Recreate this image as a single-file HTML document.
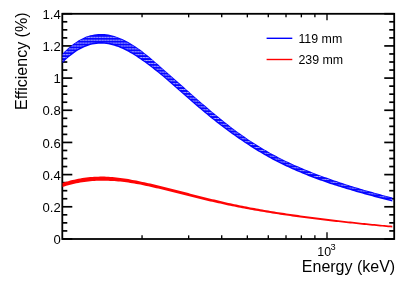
<!DOCTYPE html>
<html><head><meta charset="utf-8"><title>Efficiency</title>
<style>
html,body{margin:0;padding:0;background:#fff;}
svg{display:block;font-family:"Liberation Sans",sans-serif;will-change:transform;}
</style></head>
<body>
<svg width="415" height="281" viewBox="0 0 415 281">
<defs>
<pattern id="tx" x="0" y="2.0" width="2.75" height="2.9" patternUnits="userSpaceOnUse">
<rect x="0" y="0" width="2.35" height="1.0" fill="#fff" fill-opacity="0.68"/>
</pattern>
<clipPath id="plot"><rect x="62.3" y="13.8" width="331.9" height="225.2"/></clipPath>
</defs>
<rect width="415" height="281" fill="#fff"/>
<g stroke="#000" stroke-width="1.7" fill="none">
<line x1="62.30" y1="238.95" x2="72.30" y2="238.95"/>
<line x1="394.25" y1="238.95" x2="384.25" y2="238.95"/>
<line x1="62.30" y1="230.91" x2="67.30" y2="230.91"/>
<line x1="394.25" y1="230.91" x2="389.25" y2="230.91"/>
<line x1="62.30" y1="222.86" x2="67.30" y2="222.86"/>
<line x1="394.25" y1="222.86" x2="389.25" y2="222.86"/>
<line x1="62.30" y1="214.82" x2="67.30" y2="214.82"/>
<line x1="394.25" y1="214.82" x2="389.25" y2="214.82"/>
<line x1="62.30" y1="206.78" x2="72.30" y2="206.78"/>
<line x1="394.25" y1="206.78" x2="384.25" y2="206.78"/>
<line x1="62.30" y1="198.74" x2="67.30" y2="198.74"/>
<line x1="394.25" y1="198.74" x2="389.25" y2="198.74"/>
<line x1="62.30" y1="190.69" x2="67.30" y2="190.69"/>
<line x1="394.25" y1="190.69" x2="389.25" y2="190.69"/>
<line x1="62.30" y1="182.65" x2="67.30" y2="182.65"/>
<line x1="394.25" y1="182.65" x2="389.25" y2="182.65"/>
<line x1="62.30" y1="174.61" x2="72.30" y2="174.61"/>
<line x1="394.25" y1="174.61" x2="384.25" y2="174.61"/>
<line x1="62.30" y1="166.56" x2="67.30" y2="166.56"/>
<line x1="394.25" y1="166.56" x2="389.25" y2="166.56"/>
<line x1="62.30" y1="158.52" x2="67.30" y2="158.52"/>
<line x1="394.25" y1="158.52" x2="389.25" y2="158.52"/>
<line x1="62.30" y1="150.48" x2="67.30" y2="150.48"/>
<line x1="394.25" y1="150.48" x2="389.25" y2="150.48"/>
<line x1="62.30" y1="142.44" x2="72.30" y2="142.44"/>
<line x1="394.25" y1="142.44" x2="384.25" y2="142.44"/>
<line x1="62.30" y1="134.39" x2="67.30" y2="134.39"/>
<line x1="394.25" y1="134.39" x2="389.25" y2="134.39"/>
<line x1="62.30" y1="126.35" x2="67.30" y2="126.35"/>
<line x1="394.25" y1="126.35" x2="389.25" y2="126.35"/>
<line x1="62.30" y1="118.31" x2="67.30" y2="118.31"/>
<line x1="394.25" y1="118.31" x2="389.25" y2="118.31"/>
<line x1="62.30" y1="110.26" x2="72.30" y2="110.26"/>
<line x1="394.25" y1="110.26" x2="384.25" y2="110.26"/>
<line x1="62.30" y1="102.22" x2="67.30" y2="102.22"/>
<line x1="394.25" y1="102.22" x2="389.25" y2="102.22"/>
<line x1="62.30" y1="94.18" x2="67.30" y2="94.18"/>
<line x1="394.25" y1="94.18" x2="389.25" y2="94.18"/>
<line x1="62.30" y1="86.14" x2="67.30" y2="86.14"/>
<line x1="394.25" y1="86.14" x2="389.25" y2="86.14"/>
<line x1="62.30" y1="78.09" x2="72.30" y2="78.09"/>
<line x1="394.25" y1="78.09" x2="384.25" y2="78.09"/>
<line x1="62.30" y1="70.05" x2="67.30" y2="70.05"/>
<line x1="394.25" y1="70.05" x2="389.25" y2="70.05"/>
<line x1="62.30" y1="62.01" x2="67.30" y2="62.01"/>
<line x1="394.25" y1="62.01" x2="389.25" y2="62.01"/>
<line x1="62.30" y1="53.96" x2="67.30" y2="53.96"/>
<line x1="394.25" y1="53.96" x2="389.25" y2="53.96"/>
<line x1="62.30" y1="45.92" x2="72.30" y2="45.92"/>
<line x1="394.25" y1="45.92" x2="384.25" y2="45.92"/>
<line x1="62.30" y1="37.88" x2="67.30" y2="37.88"/>
<line x1="394.25" y1="37.88" x2="389.25" y2="37.88"/>
<line x1="62.30" y1="29.84" x2="67.30" y2="29.84"/>
<line x1="394.25" y1="29.84" x2="389.25" y2="29.84"/>
<line x1="62.30" y1="21.79" x2="67.30" y2="21.79"/>
<line x1="394.25" y1="21.79" x2="389.25" y2="21.79"/>
<line x1="62.30" y1="13.75" x2="72.30" y2="13.75"/>
<line x1="394.25" y1="13.75" x2="384.25" y2="13.75"/>
</g>
<g stroke="#000" stroke-width="1.35" fill="none">
<line x1="142.05" y1="238.95" x2="142.05" y2="235.35"/>
<line x1="142.05" y1="13.75" x2="142.05" y2="17.35"/>
<line x1="188.65" y1="238.95" x2="188.65" y2="235.35"/>
<line x1="188.65" y1="13.75" x2="188.65" y2="17.35"/>
<line x1="221.71" y1="238.95" x2="221.71" y2="235.35"/>
<line x1="221.71" y1="13.75" x2="221.71" y2="17.35"/>
<line x1="247.35" y1="238.95" x2="247.35" y2="235.35"/>
<line x1="247.35" y1="13.75" x2="247.35" y2="17.35"/>
<line x1="268.30" y1="238.95" x2="268.30" y2="235.35"/>
<line x1="268.30" y1="13.75" x2="268.30" y2="17.35"/>
<line x1="286.01" y1="238.95" x2="286.01" y2="235.35"/>
<line x1="286.01" y1="13.75" x2="286.01" y2="17.35"/>
<line x1="301.36" y1="238.95" x2="301.36" y2="235.35"/>
<line x1="301.36" y1="13.75" x2="301.36" y2="17.35"/>
<line x1="314.89" y1="238.95" x2="314.89" y2="235.35"/>
<line x1="314.89" y1="13.75" x2="314.89" y2="17.35"/>
<line x1="327.00" y1="238.95" x2="327.00" y2="232.35"/>
<line x1="327.00" y1="13.75" x2="327.00" y2="20.35"/>
</g>
<rect x="62.3" y="13.8" width="331.9" height="225.2" fill="none" stroke="#000" stroke-width="1.8"/>
<g clip-path="url(#plot)">
<path d="M62.3,53.9 L64.3,51.8 L66.3,49.9 L68.3,48.1 L70.3,46.4 L72.3,44.7 L74.3,43.3 L76.3,41.9 L78.3,40.6 L80.3,39.4 L82.3,38.4 L84.3,37.5 L86.3,36.6 L88.3,35.9 L90.3,35.3 L92.3,34.9 L94.3,34.5 L96.3,34.2 L98.3,34.0 L100.3,34.0 L102.3,34.0 L104.3,34.1 L106.3,34.3 L108.3,34.6 L110.3,35.0 L112.3,35.5 L114.3,36.0 L116.3,36.7 L118.3,37.4 L120.3,38.2 L122.3,39.1 L124.3,40.0 L126.3,41.0 L128.3,42.1 L130.3,43.3 L132.3,44.5 L134.3,45.7 L136.3,47.0 L138.3,48.4 L140.3,49.8 L142.3,51.3 L144.3,52.9 L146.3,54.5 L148.3,56.1 L150.3,57.8 L152.3,59.4 L154.3,61.2 L156.3,62.9 L158.3,64.6 L160.3,66.4 L162.3,68.2 L164.3,69.9 L166.3,71.7 L168.3,73.4 L170.3,75.2 L172.3,77.0 L174.3,78.7 L176.3,80.5 L178.3,82.3 L180.3,84.1 L182.3,85.8 L184.3,87.6 L186.3,89.4 L188.3,91.1 L190.3,92.9 L192.3,94.7 L194.3,96.4 L196.3,98.2 L198.3,99.9 L200.3,101.7 L202.3,103.4 L204.3,105.1 L206.3,106.8 L208.3,108.5 L210.3,110.2 L212.3,111.9 L214.3,113.6 L216.3,115.2 L218.3,116.8 L220.3,118.5 L222.3,120.1 L224.3,121.7 L226.3,123.3 L228.3,124.8 L230.3,126.4 L232.3,127.9 L234.3,129.4 L236.3,130.9 L238.3,132.4 L240.3,133.8 L242.3,135.2 L244.3,136.6 L246.3,138.0 L248.3,139.4 L250.3,140.7 L252.3,142.0 L254.3,143.3 L256.3,144.6 L258.3,145.8 L260.3,147.0 L262.3,148.3 L264.3,149.4 L266.3,150.6 L268.3,151.8 L270.3,152.9 L272.3,154.0 L274.3,155.1 L276.3,156.1 L278.3,157.2 L280.3,158.2 L282.3,159.2 L284.3,160.2 L286.3,161.2 L288.3,162.1 L290.3,163.0 L292.3,164.0 L294.3,164.9 L296.3,165.8 L298.3,166.6 L300.3,167.5 L302.3,168.3 L304.3,169.2 L306.3,170.0 L308.3,170.8 L310.3,171.6 L312.3,172.4 L314.3,173.2 L316.3,173.9 L318.3,174.7 L320.3,175.4 L322.3,176.2 L324.3,176.9 L326.3,177.6 L328.3,178.3 L330.3,179.0 L332.3,179.7 L334.3,180.4 L336.3,181.1 L338.3,181.8 L340.3,182.4 L342.3,183.1 L344.3,183.7 L346.3,184.4 L348.3,185.0 L350.3,185.7 L352.3,186.3 L354.3,186.9 L356.3,187.5 L358.3,188.1 L360.3,188.7 L362.3,189.3 L364.3,189.9 L366.3,190.4 L368.3,191.0 L370.3,191.6 L372.3,192.1 L374.3,192.7 L376.3,193.2 L378.3,193.8 L380.3,194.3 L382.3,194.9 L384.3,195.4 L386.3,195.9 L388.3,196.4 L390.3,197.0 L392.3,197.5 L392.3,201.5 L390.3,201.0 L388.3,200.5 L386.3,200.0 L384.3,199.5 L382.3,199.0 L380.3,198.4 L378.3,197.9 L376.3,197.4 L374.3,196.9 L372.3,196.3 L370.3,195.8 L368.3,195.3 L366.3,194.7 L364.3,194.2 L362.3,193.6 L360.3,193.0 L358.3,192.5 L356.3,191.9 L354.3,191.3 L352.3,190.7 L350.3,190.1 L348.3,189.5 L346.3,188.9 L344.3,188.3 L342.3,187.7 L340.3,187.1 L338.3,186.5 L336.3,185.8 L334.3,185.2 L332.3,184.5 L330.3,183.9 L328.3,183.2 L326.3,182.5 L324.3,181.8 L322.3,181.1 L320.3,180.4 L318.3,179.7 L316.3,178.9 L314.3,178.2 L312.3,177.4 L310.3,176.7 L308.3,175.9 L306.3,175.1 L304.3,174.3 L302.3,173.5 L300.3,172.6 L298.3,171.8 L296.3,170.9 L294.3,170.1 L292.3,169.2 L290.3,168.3 L288.3,167.3 L286.3,166.4 L284.3,165.4 L282.3,164.5 L280.3,163.5 L278.3,162.5 L276.3,161.5 L274.3,160.4 L272.3,159.4 L270.3,158.3 L268.3,157.2 L266.3,156.1 L264.3,154.9 L262.3,153.8 L260.3,152.6 L258.3,151.4 L256.3,150.2 L254.3,148.9 L252.3,147.7 L250.3,146.4 L248.3,145.1 L246.3,143.8 L244.3,142.5 L242.3,141.1 L240.3,139.8 L238.3,138.4 L236.3,137.0 L234.3,135.6 L232.3,134.2 L230.3,132.7 L228.3,131.3 L226.3,129.8 L224.3,128.3 L222.3,126.8 L220.3,125.3 L218.3,123.7 L216.3,122.2 L214.3,120.6 L212.3,119.0 L210.3,117.4 L208.3,115.7 L206.3,114.1 L204.3,112.4 L202.3,110.8 L200.3,109.1 L198.3,107.4 L196.3,105.7 L194.3,104.0 L192.3,102.2 L190.3,100.5 L188.3,98.8 L186.3,97.0 L184.3,95.3 L182.3,93.5 L180.3,91.8 L178.3,90.0 L176.3,88.3 L174.3,86.5 L172.3,84.7 L170.3,83.0 L168.3,81.3 L166.3,79.5 L164.3,77.8 L162.3,76.1 L160.3,74.5 L158.3,72.8 L156.3,71.2 L154.3,69.7 L152.3,68.1 L150.3,66.5 L148.3,65.0 L146.3,63.6 L144.3,62.1 L142.3,60.7 L140.3,59.3 L138.3,58.0 L136.3,56.6 L134.3,55.3 L132.3,54.1 L130.3,52.9 L128.3,51.8 L126.3,50.7 L124.3,49.7 L122.3,48.8 L120.3,47.9 L118.3,47.1 L116.3,46.4 L114.3,45.7 L112.3,45.2 L110.3,44.7 L108.3,44.3 L106.3,44.0 L104.3,43.8 L102.3,43.7 L100.3,43.7 L98.3,43.7 L96.3,43.9 L94.3,44.2 L92.3,44.6 L90.3,45.1 L88.3,45.7 L86.3,46.4 L84.3,47.3 L82.3,48.2 L80.3,49.2 L78.3,50.3 L76.3,51.6 L74.3,52.9 L72.3,54.4 L70.3,55.9 L68.3,57.6 L66.3,59.3 L64.3,61.2 L62.3,63.2Z" fill="#0404ff"/>
<path d="M62.3,54.8 L64.3,52.7 L66.3,50.8 L68.3,49.0 L70.3,47.3 L72.3,45.6 L74.3,44.2 L76.3,42.8 L78.3,41.5 L80.3,40.3 L82.3,39.3 L84.3,38.4 L86.3,37.5 L88.3,36.8 L90.3,36.2 L92.3,35.8 L94.3,35.4 L96.3,35.1 L98.3,34.9 L100.3,34.9 L102.3,34.9 L104.3,35.0 L106.3,35.2 L108.3,35.5 L110.3,35.9 L112.3,36.4 L114.3,36.9 L116.3,37.6 L118.3,38.3 L120.3,39.1 L122.3,40.0 L124.3,40.9 L126.3,41.9 L128.3,43.0 L130.3,44.2 L132.3,45.4 L134.3,46.6 L136.3,47.9 L138.3,49.3 L140.3,50.7 L142.3,52.2 L144.3,53.8 L146.3,55.4 L148.3,57.0 L150.3,58.7 L152.3,60.3 L154.3,62.1 L156.3,63.8 L158.3,65.5 L160.3,67.3 L162.3,69.1 L164.3,70.8 L166.3,72.6 L168.3,74.3 L170.3,76.1 L172.3,77.9 L174.3,79.6 L176.3,81.4 L178.3,83.2 L180.3,85.0 L182.3,86.7 L184.3,88.5 L186.3,90.3 L188.3,92.0 L190.3,93.8 L192.3,95.6 L194.3,97.3 L196.3,99.1 L198.3,100.8 L200.3,102.6 L202.3,104.3 L204.3,106.0 L206.3,107.7 L208.3,109.4 L210.3,111.1 L212.3,112.8 L214.3,114.5 L216.3,116.1 L218.3,117.7 L220.3,119.4 L222.3,121.0 L224.3,122.6 L226.3,124.2 L228.3,125.7 L230.3,127.3 L232.3,128.8 L234.3,130.3 L236.3,131.8 L238.3,133.3 L240.3,134.7 L242.3,136.1 L244.3,137.5 L246.3,138.9 L248.3,140.3 L250.3,141.6 L252.3,142.9 L254.3,144.2 L256.3,145.5 L258.3,146.7 L260.3,147.9 L262.3,149.2 L264.3,150.3 L266.3,151.5 L268.3,152.7 L270.3,153.8 L272.3,154.9 L274.3,156.0 L276.3,157.0 L278.3,158.1 L280.3,159.1 L282.3,160.1 L284.3,161.1 L286.3,162.1 L288.3,163.0 L290.3,163.9 L292.3,164.9 L294.3,165.8 L296.3,166.7 L298.3,167.5 L300.3,168.4 L302.3,169.2 L304.3,170.1 L306.3,170.9 L308.3,171.7 L310.3,172.5 L312.3,173.3 L314.3,174.1 L316.3,174.8 L318.3,175.6 L320.3,176.3 L322.3,177.1 L324.3,177.8 L326.3,178.5 L328.3,179.2 L330.3,179.9 L332.3,180.6 L334.3,181.3 L336.3,182.0 L338.3,182.7 L340.3,183.3 L342.3,184.0 L344.3,184.6 L346.3,185.3 L348.3,185.9 L350.3,186.6 L352.3,187.2 L354.3,187.8 L356.3,188.4 L358.3,189.0 L360.3,189.6 L362.3,190.2 L364.3,190.8 L366.3,191.3 L368.3,191.9 L370.3,192.5 L372.3,193.0 L374.3,193.6 L376.3,194.1 L378.3,194.7 L380.3,195.2 L382.3,195.8 L384.3,196.3 L386.3,196.8 L388.3,197.3 L390.3,197.9 L392.3,198.4 L392.3,199.9 L390.3,199.4 L388.3,198.9 L386.3,198.4 L384.3,197.9 L382.3,197.4 L380.3,196.8 L378.3,196.3 L376.3,195.8 L374.3,195.3 L372.3,194.7 L370.3,194.2 L368.3,193.7 L366.3,193.1 L364.3,192.6 L362.3,192.0 L360.3,191.4 L358.3,190.9 L356.3,190.3 L354.3,189.7 L352.3,189.1 L350.3,188.5 L348.3,187.9 L346.3,187.3 L344.3,186.7 L342.3,186.1 L340.3,185.5 L338.3,184.9 L336.3,184.2 L334.3,183.6 L332.3,182.9 L330.3,182.3 L328.3,181.6 L326.3,180.9 L324.3,180.2 L322.3,179.5 L320.3,178.8 L318.3,178.1 L316.3,177.3 L314.3,176.6 L312.3,175.8 L310.3,175.1 L308.3,174.3 L306.3,173.5 L304.3,172.7 L302.3,171.9 L300.3,171.0 L298.3,170.2 L296.3,169.3 L294.3,168.5 L292.3,167.6 L290.3,166.7 L288.3,165.7 L286.3,164.8 L284.3,163.8 L282.3,162.9 L280.3,161.9 L278.3,160.9 L276.3,159.9 L274.3,158.8 L272.3,157.8 L270.3,156.7 L268.3,155.6 L266.3,154.5 L264.3,153.3 L262.3,152.2 L260.3,151.0 L258.3,149.8 L256.3,148.6 L254.3,147.3 L252.3,146.1 L250.3,144.8 L248.3,143.5 L246.3,142.2 L244.3,140.9 L242.3,139.5 L240.3,138.2 L238.3,136.8 L236.3,135.4 L234.3,134.0 L232.3,132.6 L230.3,131.1 L228.3,129.7 L226.3,128.2 L224.3,126.7 L222.3,125.2 L220.3,123.7 L218.3,122.1 L216.3,120.6 L214.3,119.0 L212.3,117.4 L210.3,115.8 L208.3,114.1 L206.3,112.5 L204.3,110.8 L202.3,109.2 L200.3,107.5 L198.3,105.8 L196.3,104.1 L194.3,102.4 L192.3,100.6 L190.3,98.9 L188.3,97.2 L186.3,95.4 L184.3,93.7 L182.3,91.9 L180.3,90.2 L178.3,88.4 L176.3,86.7 L174.3,84.9 L172.3,83.1 L170.3,81.4 L168.3,79.7 L166.3,77.9 L164.3,76.2 L162.3,74.5 L160.3,72.9 L158.3,71.2 L156.3,69.6 L154.3,68.1 L152.3,66.5 L150.3,64.9 L148.3,63.4 L146.3,62.0 L144.3,60.5 L142.3,59.1 L140.3,57.7 L138.3,56.4 L136.3,55.0 L134.3,53.7 L132.3,52.5 L130.3,51.3 L128.3,50.2 L126.3,49.1 L124.3,48.1 L122.3,47.2 L120.3,46.3 L118.3,45.5 L116.3,44.8 L114.3,44.1 L112.3,43.6 L110.3,43.1 L108.3,42.7 L106.3,42.4 L104.3,42.2 L102.3,42.1 L100.3,42.1 L98.3,42.1 L96.3,42.3 L94.3,42.6 L92.3,43.0 L90.3,43.5 L88.3,44.1 L86.3,44.8 L84.3,45.7 L82.3,46.6 L80.3,47.6 L78.3,48.7 L76.3,50.0 L74.3,51.3 L72.3,52.8 L70.3,54.3 L68.3,56.0 L66.3,57.7 L64.3,59.6 L62.3,61.6Z" fill="url(#tx)"/>
<path d="M62.3,183.0 L64.3,182.3 L66.3,181.7 L68.3,181.2 L70.3,180.6 L72.3,180.1 L74.3,179.7 L76.3,179.2 L78.3,178.8 L80.3,178.5 L82.3,178.1 L84.3,177.8 L86.3,177.6 L88.3,177.3 L90.3,177.1 L92.3,177.0 L94.3,176.8 L96.3,176.7 L98.3,176.7 L100.3,176.6 L102.3,176.6 L104.3,176.6 L106.3,176.7 L108.3,176.8 L110.3,176.9 L112.3,177.1 L114.3,177.2 L116.3,177.4 L118.3,177.7 L120.3,177.9 L122.3,178.2 L124.3,178.5 L126.3,178.8 L128.3,179.1 L130.3,179.5 L132.3,179.9 L134.3,180.2 L136.3,180.6 L138.3,181.0 L140.3,181.4 L142.3,181.9 L144.3,182.3 L146.3,182.7 L148.3,183.2 L150.3,183.6 L152.3,184.1 L154.3,184.6 L156.3,185.1 L158.3,185.5 L160.3,186.0 L162.3,186.5 L164.3,187.0 L166.3,187.5 L168.3,188.0 L170.3,188.5 L172.3,189.0 L174.3,189.6 L176.3,190.1 L178.3,190.6 L180.3,191.1 L182.3,191.6 L184.3,192.1 L186.3,192.6 L188.3,193.1 L190.3,193.7 L192.3,194.2 L194.3,194.7 L196.3,195.2 L198.3,195.7 L200.3,196.2 L202.3,196.7 L204.3,197.2 L206.3,197.7 L208.3,198.2 L210.3,198.7 L212.3,199.2 L214.3,199.6 L216.3,200.1 L218.3,200.6 L220.3,201.1 L222.3,201.5 L224.3,202.0 L226.3,202.4 L228.3,202.9 L230.3,203.3 L232.3,203.7 L234.3,204.2 L236.3,204.6 L238.3,205.0 L240.3,205.4 L242.3,205.8 L244.3,206.2 L246.3,206.6 L248.3,207.0 L250.3,207.4 L252.3,207.8 L254.3,208.1 L256.3,208.5 L258.3,208.8 L260.3,209.2 L262.3,209.5 L264.3,209.9 L266.3,210.2 L268.3,210.6 L270.3,210.9 L272.3,211.2 L274.3,211.5 L276.3,211.9 L278.3,212.2 L280.3,212.5 L282.3,212.8 L284.3,213.1 L286.3,213.4 L288.3,213.7 L290.3,214.0 L292.3,214.3 L294.3,214.6 L296.3,214.8 L298.3,215.1 L300.3,215.4 L302.3,215.7 L304.3,216.0 L306.3,216.2 L308.3,216.5 L310.3,216.8 L312.3,217.0 L314.3,217.3 L316.3,217.6 L318.3,217.8 L320.3,218.1 L322.3,218.3 L324.3,218.6 L326.3,218.8 L328.3,219.1 L330.3,219.3 L332.3,219.6 L334.3,219.8 L336.3,220.0 L338.3,220.3 L340.3,220.5 L342.3,220.7 L344.3,220.9 L346.3,221.2 L348.3,221.4 L350.3,221.6 L352.3,221.8 L354.3,222.0 L356.3,222.3 L358.3,222.5 L360.3,222.7 L362.3,222.9 L364.3,223.1 L366.3,223.3 L368.3,223.5 L370.3,223.7 L372.3,223.9 L374.3,224.1 L376.3,224.3 L378.3,224.5 L380.3,224.7 L382.3,224.9 L384.3,225.1 L386.3,225.3 L388.3,225.5 L390.3,225.6 L392.3,225.8 L392.3,227.5 L390.3,227.3 L388.3,227.2 L386.3,227.0 L384.3,226.8 L382.3,226.6 L380.3,226.4 L378.3,226.2 L376.3,226.0 L374.3,225.8 L372.3,225.7 L370.3,225.5 L368.3,225.3 L366.3,225.1 L364.3,224.9 L362.3,224.7 L360.3,224.5 L358.3,224.3 L356.3,224.1 L354.3,223.8 L352.3,223.6 L350.3,223.4 L348.3,223.2 L346.3,223.0 L344.3,222.8 L342.3,222.6 L340.3,222.3 L338.3,222.1 L336.3,221.9 L334.3,221.7 L332.3,221.4 L330.3,221.2 L328.3,221.0 L326.3,220.8 L324.3,220.5 L322.3,220.3 L320.3,220.0 L318.3,219.8 L316.3,219.6 L314.3,219.3 L312.3,219.1 L310.3,218.8 L308.3,218.6 L306.3,218.3 L304.3,218.0 L302.3,217.8 L300.3,217.5 L298.3,217.2 L296.3,217.0 L294.3,216.7 L292.3,216.4 L290.3,216.1 L288.3,215.8 L286.3,215.5 L284.3,215.3 L282.3,215.0 L280.3,214.7 L278.3,214.3 L276.3,214.0 L274.3,213.7 L272.3,213.4 L270.3,213.1 L268.3,212.8 L266.3,212.4 L264.3,212.1 L262.3,211.8 L260.3,211.4 L258.3,211.1 L256.3,210.7 L254.3,210.4 L252.3,210.0 L250.3,209.7 L248.3,209.3 L246.3,208.9 L244.3,208.6 L242.3,208.2 L240.3,207.8 L238.3,207.4 L236.3,207.0 L234.3,206.6 L232.3,206.2 L230.3,205.8 L228.3,205.4 L226.3,205.0 L224.3,204.5 L222.3,204.1 L220.3,203.6 L218.3,203.2 L216.3,202.8 L214.3,202.3 L212.3,201.8 L210.3,201.4 L208.3,200.9 L206.3,200.4 L204.3,200.0 L202.3,199.5 L200.3,199.0 L198.3,198.5 L196.3,198.0 L194.3,197.6 L192.3,197.1 L190.3,196.6 L188.3,196.1 L186.3,195.6 L184.3,195.1 L182.3,194.6 L180.3,194.1 L178.3,193.6 L176.3,193.1 L174.3,192.6 L172.3,192.1 L170.3,191.6 L168.3,191.1 L166.3,190.6 L164.3,190.1 L162.3,189.6 L160.3,189.1 L158.3,188.6 L156.3,188.2 L154.3,187.7 L152.3,187.2 L150.3,186.8 L148.3,186.3 L146.3,185.9 L144.3,185.5 L142.3,185.0 L140.3,184.6 L138.3,184.2 L136.3,183.9 L134.3,183.5 L132.3,183.2 L130.3,182.9 L128.3,182.6 L126.3,182.3 L124.3,182.1 L122.3,181.8 L120.3,181.6 L118.3,181.4 L116.3,181.2 L114.3,181.1 L112.3,181.0 L110.3,180.9 L108.3,180.8 L106.3,180.7 L104.3,180.7 L102.3,180.7 L100.3,180.7 L98.3,180.8 L96.3,180.8 L94.3,180.9 L92.3,181.1 L90.3,181.2 L88.3,181.4 L86.3,181.7 L84.3,181.9 L82.3,182.2 L80.3,182.6 L78.3,182.9 L76.3,183.3 L74.3,183.7 L72.3,184.2 L70.3,184.7 L68.3,185.2 L66.3,185.8 L64.3,186.4 L62.3,187.0Z" fill="#ff0404"/>
</g>
<g font-size="13.1" fill="#000">
<text x="60.7" y="244.0" text-anchor="end">0</text>
<text x="60.7" y="211.9" text-anchor="end">0.2</text>
<text x="60.7" y="179.7" text-anchor="end">0.4</text>
<text x="60.7" y="147.5" text-anchor="end">0.6</text>
<text x="60.7" y="115.4" text-anchor="end">0.8</text>
<text x="60.7" y="83.2" text-anchor="end">1</text>
<text x="60.7" y="51.0" text-anchor="end">1.2</text>
<text x="60.7" y="18.8" text-anchor="end">1.4</text>
</g>
<g font-size="12.4" fill="#000">
<text x="317.3" y="255.8">10</text>
<text x="330.4" y="250.4" font-size="9.3">3</text>
<text x="298.4" y="43.0">119 mm</text>
<text x="298.4" y="64.2">239 mm</text>
</g>
<line x1="266.6" y1="38.3" x2="292.3" y2="38.3" stroke="#0000ff" stroke-width="1.4"/>
<line x1="266.6" y1="59.5" x2="292.3" y2="59.5" stroke="#ff0000" stroke-width="1.4"/>
<text x="395.2" y="271.8" font-size="16" text-anchor="end" fill="#000">Energy (keV)</text>
<text transform="translate(26.8,12.5) rotate(-90)" font-size="16" text-anchor="end" fill="#000">Efficiency (%)</text>
</svg>
</body></html>
